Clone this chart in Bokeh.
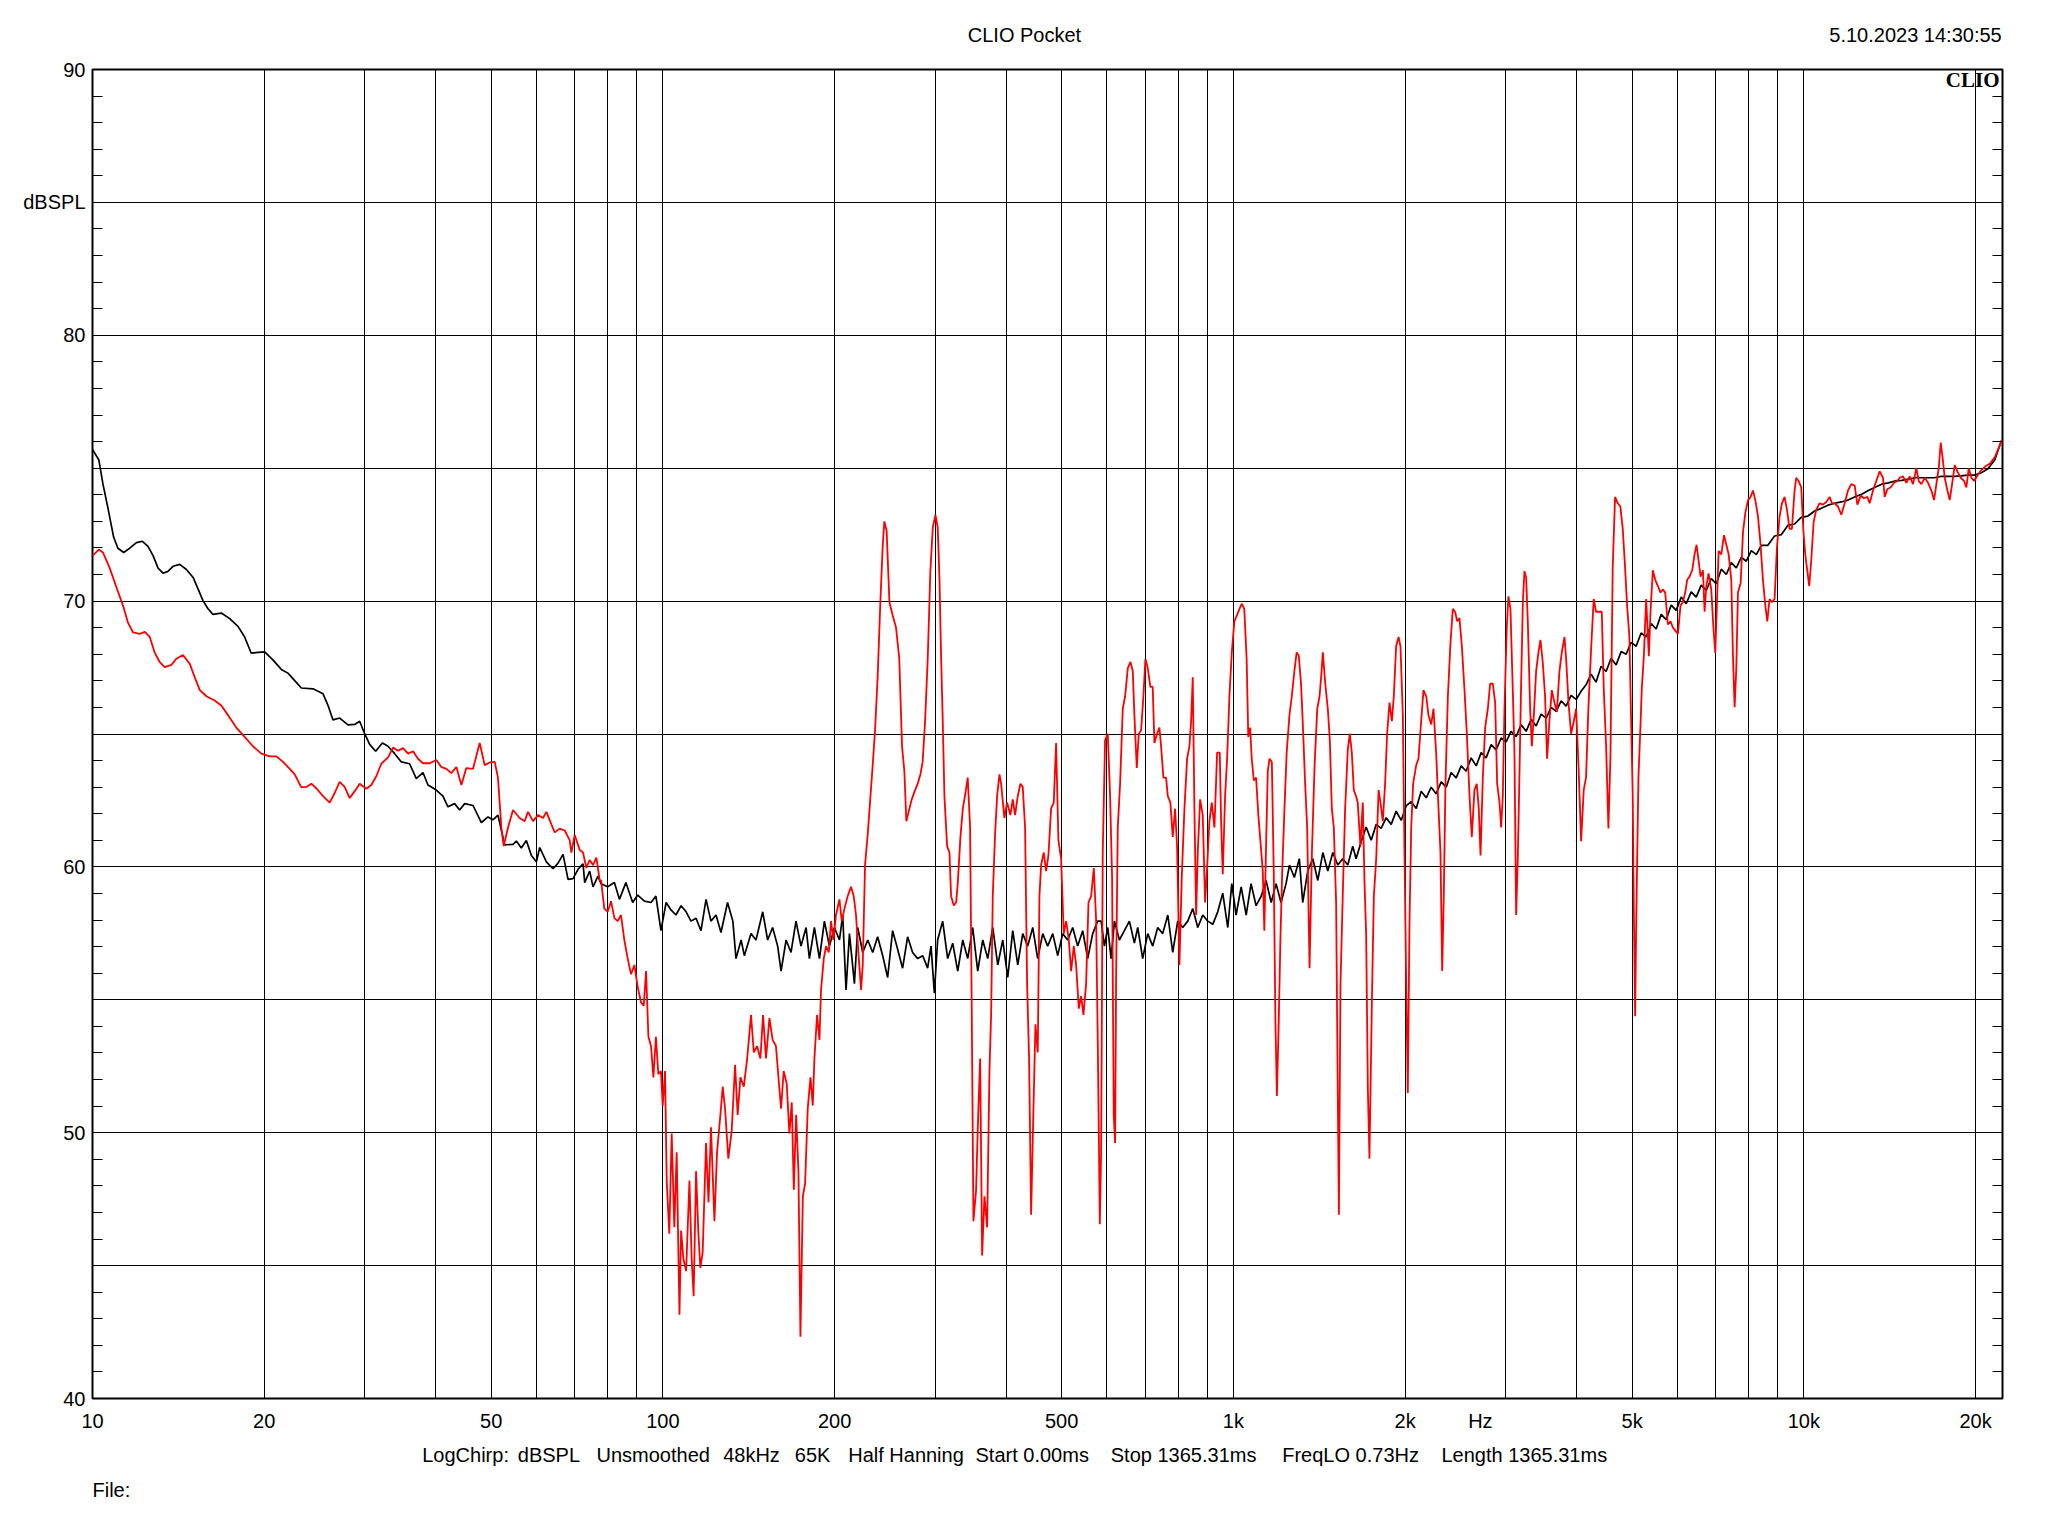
import math
from bokeh.plotting import figure
from bokeh.models import FixedTicker, LinearAxis, LogAxis, Label, Range1d
from bokeh.embed import file_html
from bokeh.resources import INLINE

# ---------------- data ----------------
# black trace
black_f_1 = [10.0, 10.26, 10.43, 10.65, 10.89, 11.08, 11.34, 11.62, 11.94, 12.23, 12.51, 12.77, 13.03, 13.29, 13.56,
             13.84, 14.22, 14.61, 15.01, 15.31, 15.62, 15.94, 16.26, 16.82, 17.40, 17.99, 18.48, 18.98, 19.50, 20.04,
             20.73, 21.43, 22.01, 22.62, 23.23, 24.35, 25.36, 25.88, 26.40, 27.12, 28.05, 28.82, 29.40, 30.00, 30.61,
             31.36, 32.22, 32.97, 33.87, 34.79, 35.97, 36.95, 37.96, 38.73, 40.06, 41.15, 41.99, 43.13, 44.02, 44.92,
             46.46, 48.05, 49.36, 50.36, 51.38, 52.78, 54.59, 55.34, 56.46, 57.62, 58.80, 60.00, 60.81, 62.47, 64.17,
             65.48, 66.81, 68.18, 69.57, 70.98, 72.43, 72.92, 74.40, 75.41, 76.94]
black_db_1 = [75.71, 75.31, 74.41, 73.47, 72.41, 71.99, 71.83, 71.99, 72.20, 72.25, 72.06, 71.71, 71.24, 71.05, 71.12,
              71.31, 71.38, 71.19, 70.89, 70.46, 70.02, 69.71, 69.50, 69.55, 69.34, 69.05, 68.65, 68.04, 68.07, 68.09,
              67.78, 67.43, 67.29, 67.01, 66.73, 66.70, 66.51, 66.07, 65.53, 65.60, 65.34, 65.36, 65.48, 65.01, 64.61,
              64.35, 64.66, 64.54, 64.26, 63.95, 63.88, 63.32, 63.55, 63.08, 62.89, 62.66, 62.26, 62.38, 62.14, 62.38,
              62.31, 61.67, 61.88, 61.77, 61.95, 60.83, 60.85, 60.97, 60.71, 60.99, 60.43, 60.19, 60.73, 60.19, 59.93,
              60.14, 60.47, 59.53, 59.56, 59.91, 60.12, 59.41, 59.84, 59.25, 59.65]

black_f_2 = [77.9, 80.0, 82.2, 83.9, 86.1, 88.5, 90.3, 92.8, 95.3, 97.2, 99.2, 101.3, 103.3, 105.4, 107.6,
             109.8, 112.0, 114.3, 116.6, 119.0, 121.4, 123.9, 126.4, 129.8, 132.6, 134.3, 137.1, 138.9, 142.7, 145.6,
             149.6, 152.6, 155.7, 158.9, 161.1, 164.4, 167.7, 171.1, 174.6, 178.2, 180.6, 184.3, 188.1, 191.9, 195.8,
             199.8, 203.9, 206.6, 209.4, 212.3, 216.6, 219.5, 224.0, 228.6, 233.2, 237.9, 242.8, 247.7, 252.7, 257.9,
             263.1, 268.5, 274.0, 279.6, 285.3, 291.1, 295.1, 299.1, 303.1, 309.3, 315.6, 322.1, 328.7, 335.4, 342.2,
             349.2, 356.3, 363.6, 371.0, 378.6, 386.3, 394.2, 402.2, 410.4, 418.8, 427.3, 436.0, 444.9, 453.9, 463.2,
             472.6, 482.3, 492.1, 502.1, 512.3, 522.8, 533.4, 544.3, 555.4, 566.7, 578.3]
black_db_2 = [59.37, 59.25, 59.41, 58.78, 59.41, 58.66, 58.94, 58.71, 58.66, 58.90, 57.60, 58.66, 58.38, 58.19, 58.54,
              58.31, 57.96, 58.07, 57.60, 58.78, 57.96, 58.19, 57.53, 58.66, 57.96, 56.55, 57.25, 56.66, 57.49, 57.25,
              58.31, 57.25, 57.72, 57.02, 56.08, 57.25, 56.78, 57.96, 57.02, 57.72, 56.55, 57.72, 56.55, 57.96, 57.02,
              57.72, 57.25, 58.19, 55.37, 57.49, 55.61, 57.72, 56.78, 57.25, 56.78, 57.37, 56.66, 55.84, 57.60, 56.90,
              56.19, 57.37, 56.78, 56.55, 56.66, 56.19, 57.02, 55.25, 57.25, 57.96, 56.55, 57.13, 56.08, 57.25, 56.55,
              57.72, 56.08, 57.25, 56.55, 57.72, 56.31, 57.25, 55.84, 57.60, 56.31, 57.49, 57.02, 57.72, 56.55, 57.49,
              57.02, 57.49, 56.66, 57.49, 57.25, 57.72, 57.02, 57.60, 56.55, 57.49, 57.96]

black_f_3 = [586.3, 594.2, 602.3, 610.4, 618.7, 631.2, 644.1, 657.3, 670.6, 679.7, 693.5, 707.7, 722.1, 736.8, 751.8,
             767.4, 782.9, 798.8, 815.2, 831.8, 848.8, 866.1, 883.7, 901.8, 920.2, 938.8, 958.0, 977.7, 993.6, 1011,
             1032, 1053, 1074, 1096, 1119, 1141, 1165, 1188, 1212, 1237, 1254, 1279, 1305, 1323, 1350,
             1378, 1406, 1435, 1464, 1494, 1524, 1555, 1587, 1619, 1641, 1675, 1709, 1744, 1780, 1816,
             1853, 1891, 1929, 1969, 2009, 2050, 2092, 2134, 2178, 2222, 2267, 2314, 2361, 2409, 2458,
             2508, 2559, 2611, 2665, 2719, 2774, 2831, 2888, 2947, 3007, 3068, 3131, 3195, 3260, 3327,
             3394, 3463, 3534, 3606, 3680, 3755, 3831, 3909, 3989]
black_db_3 = [57.96, 57.02, 57.72, 56.55, 57.96, 57.25, 57.60, 57.96, 57.13, 57.72, 56.55, 57.49, 57.02, 57.72, 57.49,
              58.19, 56.78, 57.96, 57.72, 57.96, 58.43, 57.72, 58.19, 57.96, 57.84, 58.31, 59.01, 57.72, 59.37, 58.19,
              59.25, 58.19, 59.37, 58.54, 58.90, 59.49, 58.66, 59.37, 58.66, 59.37, 60.07, 59.60, 60.31, 58.66, 59.84,
              60.31, 59.49, 60.54, 59.84, 60.54, 60.07, 60.31, 60.07, 60.78, 60.31, 60.95, 61.50, 61.00, 61.60, 61.45,
              61.85, 61.60, 62.10, 61.75, 62.30, 62.45, 62.20, 62.85, 62.60, 63.00, 62.75, 63.20, 63.00, 63.55, 63.35,
              63.80, 63.60, 64.10, 63.80, 64.30, 64.10, 64.60, 64.40, 64.85, 64.70, 65.10, 64.90, 65.35, 65.10, 65.55,
              65.30, 65.75, 65.60, 66.00, 65.85, 66.25, 66.05, 66.45, 66.30]

black_f_4 = [4070, 4152, 4237, 4323, 4412, 4502, 4594, 4688, 4784, 4881, 4980, 5082, 5186, 5292, 5400,
             5510, 5623, 5738, 5855, 5974, 6096, 6220, 6347, 6477, 6609, 6746, 6882, 7023, 7167, 7314,
             7462, 7614, 7770, 7928, 8090, 8256, 8423, 8650, 8887, 9130, 9379, 9634, 9897, 10167, 10445,
             10730, 11024, 11324, 11634, 11952, 12278, 12633, 12974, 13331, 13695, 14068, 14453, 14848, 15252, 15668,
             16073, 16512, 16943, 17400, 17886, 18390, 18874, 19391, 19919, 20479, 21024, 21612, 22193]
black_db_4 = [66.61, 66.85, 67.25, 66.95, 67.55, 67.35, 67.85, 67.60, 68.10, 68.00, 68.45, 68.30, 68.80, 68.65, 69.15,
              68.95, 69.50, 69.30, 69.85, 69.65, 70.15, 69.90, 70.35, 70.15, 70.60, 70.40, 70.85, 70.65, 71.20, 71.00,
              71.45, 71.25, 71.65, 71.50, 71.90, 71.75, 72.10, 72.10, 72.45, 72.50, 72.85, 72.90, 73.15, 73.20, 73.39,
              73.49, 73.61, 73.68, 73.73, 73.80, 73.92, 74.02, 74.16, 74.28, 74.40, 74.45, 74.52, 74.54, 74.59, 74.64,
              74.64, 74.64, 74.64, 74.69, 74.69, 74.69, 74.71, 74.74, 74.74, 74.83, 74.98, 75.31, 76.03]

# red trace
red_f_1 = [10.0, 10.26, 10.43, 10.72, 11.01, 11.31, 11.54, 11.78, 12.10, 12.35, 12.60, 12.85, 13.11, 13.38, 13.75,
           14.03, 14.41, 14.81, 15.11, 15.42, 15.84, 16.37, 16.82, 17.28, 17.87, 18.48, 19.11, 19.77, 20.45, 21.01,
           21.58, 22.17, 22.62, 23.23, 23.71, 24.19, 24.68, 25.36, 26.05, 26.58, 27.12, 27.67, 28.24, 28.82, 29.40,
           30.20, 30.82, 31.44, 32.08, 32.97, 33.64, 34.32, 35.03, 35.74, 36.47, 37.21, 37.96, 39.00, 40.06, 40.88,
           41.72, 42.57, 43.44, 44.32, 45.22, 46.46, 47.73, 48.70, 49.69, 50.71, 51.38, 52.09, 52.58, 53.51, 54.59,
           56.08, 57.22, 58.00, 59.19, 60.40, 61.63, 62.47, 63.74, 64.61, 65.92, 67.26, 68.63, 69.10, 70.04, 71.45,
           72.43, 73.40, 74.40, 75.41, 76.43, 77.48]
red_db_1 = [71.71, 71.94, 71.83, 71.24, 70.53, 69.83, 69.19, 68.82, 68.77, 68.84, 68.65, 68.07, 67.71, 67.52, 67.60,
            67.83, 67.97, 67.64, 67.13, 66.65, 66.42, 66.26, 66.07, 65.71, 65.24, 64.89, 64.54, 64.26, 64.16, 64.16,
            63.95, 63.69, 63.48, 62.99, 63.01, 63.13, 62.96, 62.66, 62.42, 62.78, 63.20, 63.01, 62.59, 62.85, 63.13,
            62.94, 63.08, 63.41, 63.88, 64.12, 64.49, 64.37, 64.47, 64.26, 64.35, 64.07, 63.90, 63.90, 64.02, 63.76,
            63.69, 63.53, 63.76, 63.08, 63.72, 63.69, 64.66, 63.83, 63.93, 63.95, 63.36, 61.48, 60.78, 61.48, 62.14,
            61.84, 61.72, 62.07, 61.72, 61.95, 61.84, 62.07, 61.60, 61.30, 61.44, 61.37, 61.01, 60.54, 61.20, 60.64,
            60.54, 59.96, 60.26, 60.07, 60.35, 59.49]

red_f_2 = [77.9, 78.93, 80.0, 81.10, 82.2, 83.30, 84.43, 85.57, 86.74, 87.92,
           89.11, 90.3, 91.55, 92.53, 93.42, 94.30, 95.3, 96.22, 97.2, 98.17,
           99.2, 99.91, 100.85, 101.53, 102.6, 103.6, 104.7, 105.7, 106.9, 107.6,
           108.6, 109.8, 111.3, 112.3, 113.2, 114.3, 115.4, 116.3, 117.4, 119.0,
           120.2, 121.4, 123.1, 124.4, 126.1, 127.3, 128.5, 130.2, 132.0, 133.8,
           135.2, 136.7, 138.6, 140.5, 142.7, 144.3, 146.2, 148.2, 149.8, 151.6,
           153.7, 155.7, 157.8, 159.4, 161.1, 162.8, 164.8, 166.6, 168.2, 169.6,
           171.2, 172.8, 174.2, 175.9, 177.5, 179.4, 181.4, 183.1, 184.3, 186.3,
           188.1, 189.3, 191.4, 193.2, 195.3, 197.1, 199.0, 201.1, 203.9, 205.8,
           208.1, 210.8, 213.7, 216.0, 218.0, 220.1, 222.5, 224.0, 226.1, 228.6,
           231.1, 233.2, 235.4, 237.9, 240.5, 242.8, 244.4, 246.7, 249.5, 252.7,
           256.2, 259.6, 262.5, 265.0, 267.1, 270.4, 273.0, 276.7, 279.6, 282.7,
           285.3, 288.1, 291.2, 294.3, 297.2, 300.4, 303.2, 305.3, 307.4, 309.4,
           311.5, 314.9, 317.9, 320.0, 323.5, 326.6, 328.7, 332.3, 335.5, 339.1,
           342.2, 345.5, 347.8, 350.2, 354.0, 356.4, 359.8, 362.7, 366.1, 370.1,
           373.6, 376.1, 378.6, 382.2, 385.3, 389.0, 391.6, 396.8, 401.1, 406.5,
           410.4, 414.3, 418.8, 423.3, 427.3, 431.4, 434.9, 438.4, 442.0, 446.2,
           449.8, 454.0, 457.1, 460.2, 465.2, 469.6, 474.0, 479.1, 484.3, 488.9,
           493.5, 498.9, 504.3, 509.1, 514.6, 519.5, 525.1, 530.1, 535.8, 540.9,
           546.0, 551.9, 557.2, 563.2, 569.3, 574.7, 578.6, 583.3]
red_db_2 = [59.49, 58.43, 58.31, 58.71, 58.07, 57.96, 58.19, 57.25, 56.55, 55.96,
            56.31, 55.49, 54.90, 54.78, 56.08, 53.61, 53.26, 52.08, 53.61, 52.20,
            52.32, 51.02, 52.32, 48.20, 46.20, 49.97, 46.44, 49.26, 43.15, 46.32,
            45.26, 44.79, 48.20, 45.26, 43.85, 48.55, 46.20, 44.91, 45.50, 49.61,
            47.38, 50.20, 46.67, 49.26, 50.67, 51.73, 50.90, 49.02, 50.08, 52.55,
            50.67, 52.08, 51.73, 52.79, 54.43, 53.02, 53.26, 52.79, 54.43, 52.79,
            54.31, 53.49, 53.26, 52.08, 50.90, 52.32, 51.85, 49.97, 51.14, 47.85,
            50.67, 48.55, 42.32, 47.61, 48.08, 50.90, 52.08, 51.02, 52.79, 54.43,
            53.49, 55.37, 56.55, 57.02, 56.78, 57.96, 57.25, 58.19, 58.78, 57.96,
            58.43, 58.90, 59.25, 58.90, 58.19, 56.78, 55.37, 56.31, 60.07, 61.25,
            62.66, 63.83, 65.13, 67.13, 69.95, 72.06, 73.00, 72.65, 69.95, 69.48,
            69.01, 67.83, 64.54, 63.60, 61.72, 62.19, 62.54, 62.89, 63.13, 63.48,
            63.95, 65.48, 67.83, 71.12, 72.77, 73.24, 72.77, 70.89, 67.83, 65.48,
            62.66, 60.78, 60.54, 58.90, 58.55, 58.66, 59.37, 61.13, 62.19, 62.78,
            63.36, 61.48, 54.67, 46.67, 47.85, 50.20, 52.79, 45.38, 47.61, 46.44,
            52.32, 54.43, 58.90, 61.25, 62.66, 63.48, 63.13, 61.84, 62.42, 61.95,
            62.54, 61.95, 62.66, 63.13, 63.01, 61.48, 55.61, 52.79, 46.91, 50.90,
            54.08, 53.02, 58.90, 60.07, 60.54, 59.84, 60.43, 62.19, 62.42, 64.66,
            61.01, 60.31, 57.49, 57.96, 57.25, 56.08, 57.02, 56.31, 54.67, 55.14,
            54.43, 55.61, 58.66, 58.90, 59.96, 57.96, 53.26, 46.56]

red_f_3 = [586.3, 590.2, 595.8, 602.3, 608.0, 612.9, 617.0, 620.4, 622.9, 627.1,
           633.0, 639.9, 646.0, 653.0, 660.1, 666.3, 670.6, 677.1, 682.6, 689.0,
           695.5, 701.1, 707.7, 715.4, 722.1, 727.0, 734.9, 741.9, 746.9, 754.0,
           762.1, 767.4, 775.5, 782.9, 790.3, 796.7, 804.3, 811.9, 820.7, 829.6,
           837.5, 843.1, 848.8, 854.5, 860.4, 866.1, 874.4, 883.7, 892.2, 899.4,
           907.8, 916.5, 926.4, 936.5, 946.5, 951.7, 958.0, 967.1, 975.0, 984.2,
           993.6, 1004, 1015, 1025, 1034, 1045, 1055, 1062, 1070, 1077,
           1086, 1096, 1106, 1115, 1126, 1133, 1141, 1149, 1157, 1168,
           1177, 1185, 1192, 1201, 1209, 1218, 1229, 1240, 1254, 1266,
           1279, 1291, 1302, 1314, 1323, 1336, 1347, 1360, 1373, 1388,
           1403, 1416, 1425, 1435, 1449, 1464, 1476, 1488, 1500, 1514,
           1524, 1531, 1541, 1555, 1570, 1587, 1600, 1613, 1626, 1641,
           1652, 1670, 1686, 1698, 1709, 1721, 1732, 1749, 1763, 1780,
           1797, 1811, 1828, 1845, 1860, 1878, 1896, 1911, 1929, 1948,
           1963, 1982, 1995, 2009, 2022, 2036, 2050, 2066, 2092, 2111,
           2134, 2154, 2178, 2198, 2222, 2243, 2267, 2289, 2307, 2323,
           2338, 2354, 2377, 2402, 2425, 2448, 2468, 2491, 2515, 2542,
           2566, 2594, 2618, 2646, 2671, 2693, 2712, 2737, 2763, 2793,
           2819, 2850, 2877, 2900, 2928, 2947, 2967, 2987, 3015, 3035,
           3060, 3089, 3110, 3131, 3152, 3174, 3195, 3217, 3238, 3260,
           3282, 3313, 3336, 3363, 3394, 3426, 3454, 3486, 3519, 3548,
           3581, 3616, 3655, 3690, 3729, 3765, 3806, 3831, 3868, 3909,
           3952, 3989, 4027]
red_db_3 = [49.26, 60.54, 64.77, 65.01, 62.66, 59.60, 50.67, 49.61, 55.84, 61.48,
            63.13, 65.95, 66.42, 67.48, 67.71, 67.36, 65.71, 63.72, 65.01, 65.13,
            66.42, 67.83, 67.48, 66.77, 66.77, 64.66, 65.01, 65.24, 64.54, 63.36,
            63.36, 62.66, 62.42, 61.13, 62.19, 60.78, 56.31, 59.60, 62.19, 64.07,
            64.54, 65.48, 67.13, 62.19, 58.19, 60.54, 62.54, 61.95, 58.66, 59.96,
            61.72, 62.42, 61.48, 64.30, 64.30, 61.72, 59.72, 62.66, 64.07, 66.42,
            68.07, 69.24, 69.48, 69.71, 69.90, 69.71, 67.83, 64.89, 65.24, 64.07,
            63.25, 63.36, 61.95, 61.01, 59.84, 57.60, 60.78, 63.60, 64.07, 63.95,
            59.84, 54.20, 51.38, 54.20, 57.25, 59.84, 62.19, 64.30, 65.71, 66.42,
            67.36, 68.07, 67.95, 66.89, 65.48, 63.13, 61.48, 56.19, 60.54, 63.83,
            65.95, 66.42, 67.13, 68.07, 66.89, 65.95, 64.77, 62.19, 61.48, 58.66,
            51.61, 46.91, 55.61, 58.90, 62.19, 64.42, 65.01, 64.30, 62.89, 62.66,
            62.42, 60.78, 62.42, 59.37, 57.49, 51.61, 49.02, 54.90, 58.90, 60.31,
            62.89, 62.42, 61.72, 63.13, 65.01, 66.18, 65.48, 66.42, 68.30, 68.65,
            68.30, 65.71, 60.54, 55.61, 51.49, 57.96, 61.48, 63.13, 63.83, 64.07,
            65.48, 66.65, 66.42, 65.71, 65.36, 65.95, 64.30, 62.19, 60.54, 56.08,
            58.90, 63.13, 66.42, 68.42, 69.71, 69.59, 69.24, 69.36, 68.30, 66.65,
            65.01, 62.66, 61.13, 62.89, 63.13, 62.19, 60.43, 63.36, 65.24, 65.95,
            66.89, 66.89, 66.18, 63.13, 62.42, 61.48, 62.66, 65.95, 69.01, 70.18,
            69.71, 66.65, 64.30, 58.19, 60.31, 63.60, 66.89, 69.95, 71.12, 70.89,
            69.24, 65.95, 64.54, 65.71, 67.36, 68.07, 68.54, 67.71, 66.42, 64.07,
            65.48, 66.65, 66.18, 65.83, 67.36, 68.07, 68.65, 67.83, 66.18, 65.01,
            65.48, 65.95, 63.83]

red_f_4 = [4070, 4113, 4152, 4192, 4237, 4282, 4323, 4382, 4424, 4459,
           4502, 4544, 4581, 4624, 4668, 4719, 4769, 4815, 4860, 4900,
           4946, 4980, 5013, 5034, 5062, 5082, 5103, 5130, 5166, 5200,
           5243, 5292, 5350, 5386, 5437, 5489, 5549, 5609, 5661, 5715,
           5777, 5840, 5895, 5959, 6015, 6080, 6137, 6195, 6246, 6305,
           6374, 6434, 6486, 6539, 6592, 6655, 6700, 6746, 6809, 6882,
           6938, 6995, 7052, 7090, 7167, 7245, 7314, 7383, 7462, 7513,
           7563, 7614, 7666, 7749, 7823, 7897, 7983, 8068, 8145, 8222,
           8310, 8389, 8480, 8560, 8629, 8710, 8793, 8887, 8971, 9069,
           9155, 9254, 9342, 9441, 9531, 9634, 9699, 9791, 9897, 9977,
           10058, 10140, 10221, 10304, 10402, 10515, 10659, 10803, 10950, 11099,
           11204, 11324, 11478, 11634, 11792, 11952, 12114, 12278, 12412, 12580,
           12750, 12923, 13045, 13222, 13401, 13583, 13767, 13860, 14010, 14201,
           14393, 14588, 14726, 14926, 15128, 15333, 15541, 15751, 15900, 16073,
           16291, 16512, 16735, 16917, 17077, 17239, 17378, 17519, 17661, 17853,
           18022, 18193, 18390, 18586, 18839, 19094, 19275, 19458, 19670, 19884,
           20207, 20479, 20812, 21180, 21612, 22045, 22254]
red_db_4 = [60.97, 62.89, 63.37, 66.01, 68.17, 70.08, 69.60, 69.60, 69.60, 66.73,
            64.57, 61.45, 64.09, 71.28, 73.92, 73.68, 73.56, 72.72, 71.28, 69.84,
            68.65, 65.53, 62.65, 58.57, 54.38, 57.61, 60.25, 63.37, 65.05, 66.73,
            67.93, 70.08, 67.93, 69.60, 71.16, 70.80, 70.56, 70.32, 70.44, 70.32,
            69.12, 69.24, 69.00, 68.88, 68.76, 69.84, 69.96, 70.32, 70.80, 70.92,
            71.16, 71.76, 72.12, 71.52, 70.92, 71.16, 69.60, 70.56, 71.04, 70.44,
            69.12, 68.05, 70.32, 71.88, 71.76, 72.48, 72.12, 71.76, 70.80, 67.93,
            66.01, 67.45, 70.32, 70.68, 72.60, 73.32, 73.80, 73.92, 74.16, 73.80,
            73.20, 72.24, 70.80, 69.84, 69.24, 70.08, 69.96, 70.08, 72.00, 73.20,
            73.68, 73.92, 73.44, 72.72, 72.72, 74.16, 74.64, 74.52, 74.28, 72.72,
            71.76, 71.16, 70.56, 71.52, 72.96, 73.44, 73.68, 73.63, 73.73, 73.92,
            73.68, 73.68, 73.56, 73.25, 73.68, 74.16, 74.40, 74.35, 73.63, 73.97,
            73.87, 73.92, 73.68, 74.16, 74.52, 74.88, 74.64, 73.92, 74.21, 74.28,
            74.45, 74.52, 74.64, 74.69, 74.45, 74.69, 74.40, 75.00, 74.52, 74.40,
            74.64, 74.45, 74.16, 73.80, 74.40, 75.00, 75.96, 75.36, 74.64, 74.16,
            73.80, 74.40, 75.12, 74.88, 74.64, 74.52, 74.28, 75.00, 74.64, 74.52,
            74.76, 74.93, 75.07, 75.17, 75.41, 75.84, 76.08]

black_f = black_f_1 + black_f_2 + black_f_3 + black_f_4
black_db = black_db_1 + black_db_2 + black_db_3 + black_db_4
red_f = red_f_1 + red_f_2 + red_f_3 + red_f_4
red_db = red_db_1 + red_db_2 + red_db_3 + red_db_4
assert len(black_f) == len(black_db), (len(black_f), len(black_db))
assert len(red_f) == len(red_db), (len(red_f), len(red_db))

# axes / ticks
x_tick_values = [10, 20, 50, 100, 200, 500, 1000, 2000, 2710, 5000, 10000, 20000]
x_tick_labels = ["10", "20", "50", "100", "200", "500", "1k", "2k", "Hz", "5k", "10k", "20k"]
x_grid_values = [20, 30, 40, 50, 60, 70, 80, 90, 100, 200, 300, 400, 500, 600, 700, 800, 900,
                 1000, 2000, 3000, 4000, 5000, 6000, 7000, 8000, 9000, 10000, 20000]
y_tick_values = [40, 50, 60, 70, 80, 85, 90]
y_tick_labels = ["40", "50", "60", "70", "80", "dBSPL", "90"]
y_grid_values = [45, 50, 55, 60, 65, 70, 75, 80, 85]
y_minor_values = list(range(40, 91))

# texts (and the page x-centre of each)
title_text = "CLIO Pocket"
date_text = "5.10.2023 14:30:55"
header_items = [title_text, date_text]
header_x_px = [1024, 1915]
logo_text = "CLIO"
info_items = ["LogChirp:", "dBSPL", "Unsmoothed", "48kHz", "65K", "Half Hanning",
              "Start 0.00ms", "Stop 1365.31ms", "FreqLO 0.73Hz", "Length 1365.31ms"]
info_x_px = [465.1, 548.4, 652.7, 751.0, 812.1, 905.5, 1031.7, 1183.1, 1350.1, 1523.8]
file_items = ["File:"]
file_x_px = [110.9]

# ---------------- layout ----------------
X_MIN, X_MAX = 10, 22300
Y_MIN, Y_MAX = 40, 90
W, H = 2040, 1530
BL, BR, BT, BB = 92, 38, 69, 132
FL, FR = BL, W - BR
FT, FB = BT, H - BB

FONT = "Liberation Sans"
FS = "20px"


def fx(px):
    return round(10 ** (math.log10(X_MIN) + (px - FL) / (FR - FL) * math.log10(X_MAX / X_MIN)), 4)


def fy(py):
    return Y_MAX - (py - FT) / (FB - FT) * (Y_MAX - Y_MIN)


p = figure(width=W, height=H, x_axis_type="log",
           x_range=Range1d(X_MIN, X_MAX), y_range=Range1d(Y_MIN, Y_MAX),
           output_backend="svg", toolbar_location=None, tools="",
           min_border_left=BL, min_border_right=BR, min_border_top=BT, min_border_bottom=BB)
p.background_fill_color = "white"
p.border_fill_color = "white"
p.outline_line_color = "black"
p.outline_line_width = 2
p.outline_line_alpha = 1.0

# grid
p.xgrid.ticker = FixedTicker(ticks=x_grid_values)
p.ygrid.ticker = FixedTicker(ticks=y_grid_values)
for g in (p.xgrid, p.ygrid):
    g.grid_line_color = "black"
    g.grid_line_alpha = 1.0
    g.grid_line_width = 1


def style_text_axis(ax, standoff):
    ax.major_tick_in = 0
    ax.major_tick_out = 0
    ax.minor_tick_in = 0
    ax.minor_tick_out = 0
    ax.axis_line_color = None
    ax.major_label_standoff = standoff
    ax.major_label_text_font = FONT
    ax.major_label_text_font_size = FS
    ax.major_label_text_color = "black"


# x axis
xa = p.xaxis[0]
xa.ticker = FixedTicker(ticks=x_tick_values)
xa.major_label_overrides = {v: s for v, s in zip(x_tick_values, x_tick_labels)}
style_text_axis(xa, 11)

# header row (title and date) as an axis above the frame
hdr_ticks = [fx(v) for v in header_x_px]
ha = LogAxis(ticker=FixedTicker(ticks=hdr_ticks),
             major_label_overrides={v: s for v, s in zip(hdr_ticks, header_items)})
style_text_axis(ha, 24)
p.add_layout(ha, "above")

# measurement info row below the x axis
info_ticks = [fx(v) for v in info_x_px]
ia = LogAxis(ticker=FixedTicker(ticks=info_ticks),
             major_label_overrides={v: s for v, s in zip(info_ticks, info_items)})
style_text_axis(ia, 9)
p.add_layout(ia, "below")

file_ticks = [fx(v) for v in file_x_px]
fa = LogAxis(ticker=FixedTicker(ticks=file_ticks),
             major_label_overrides={v: s for v, s in zip(file_ticks, file_items)})
style_text_axis(fa, 10)
p.add_layout(fa, "below")

# left y axis
ya = p.yaxis[0]
ya.ticker = FixedTicker(ticks=y_tick_values, minor_ticks=y_minor_values)
ya.major_label_overrides = {v: s for v, s in zip(y_tick_values, y_tick_labels)}
ya.major_tick_in = 10
ya.major_tick_out = 0
ya.minor_tick_in = 10
ya.minor_tick_out = 0
ya.major_tick_line_color = "black"
ya.minor_tick_line_color = "black"
ya.axis_line_color = None
ya.major_label_standoff = 7
ya.major_label_text_font = FONT
ya.major_label_text_font_size = FS
ya.major_label_text_color = "black"

# right y axis (ticks only)
ra = LinearAxis(ticker=FixedTicker(ticks=[], minor_ticks=y_minor_values),
                major_tick_in=0, major_tick_out=0, minor_tick_in=10, minor_tick_out=0,
                minor_tick_line_color="black", axis_line_color=None,
                major_label_text_font_size="0px")
p.add_layout(ra, "right")

# traces
p.line(black_f, black_db, line_color="black", line_width=1.7)
p.line(red_f, red_db, line_color="#ff0000", line_width=1.8)

# logo inside the frame
p.add_layout(Label(x=fx(1999), y=fy(79), text=logo_text, text_align="right", text_baseline="middle",
                   text_font="Liberation Serif", text_font_size="21px", text_font_style="bold",
                   text_color="black"))

open("out.html", "w").write(file_html(p, INLINE))
